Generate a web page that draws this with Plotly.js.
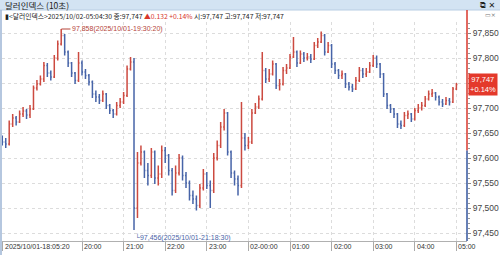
<!DOCTYPE html>
<html>
<head>
<meta charset="utf-8">
<script src="https://cdn.plot.ly/plotly-3.0.1.min.js"></script>
<style>
html,body{margin:0;padding:0;background:#fff;overflow:hidden;}
#chart{width:500px;height:255px;}
</style>
</head>
<body>
<div id="chart"></div>
<script>
// ---- data (5-minute candles) ----
const times = [
"18:05","18:10","18:15","18:20","18:25","18:30","18:35","18:40","18:45","18:50","18:55",
"19:00","19:05","19:10","19:15","19:20","19:25","19:30","19:35","19:40","19:45","19:50","19:55",
"20:00","20:05","20:10","20:15","20:20","20:25","20:30","20:35","20:40","20:45","20:50","20:55",
"21:00","21:05","21:10","21:15","21:20","21:25","21:30","21:35","21:40","21:45","21:50","21:55",
"22:00","22:05","22:10","22:15","22:20","22:25","22:30","22:35","22:40","22:45","22:50","22:55",
"23:00","23:05","23:10","23:15","23:20","23:25","23:30","23:35","23:40","23:45","23:50","23:55",
"00:00","00:05","00:10","00:15","00:20","00:25","00:30","00:35","00:40","00:45","00:50","00:55",
"01:00","01:05","01:10","01:15","01:20","01:25","01:30","01:35","01:40","01:45","01:50","01:55",
"02:00","02:05","02:10","02:15","02:20","02:25","02:30","02:35","02:40","02:45","02:50","02:55",
"03:00","03:05","03:10","03:15","03:20","03:25","03:30","03:35","03:40","03:45","03:50","03:55",
"04:00","04:05","04:10","04:15","04:20","04:25","04:30","04:35","04:40","04:45","04:50","04:55",
"05:00"];

const openP = [
97.638,97.632,97.628,97.668,97.680,97.672,97.688,97.694,97.686,97.698,97.740,97.748,
97.758,97.785,97.770,97.762,97.800,97.828,97.845,97.812,97.790,97.770,97.755,97.790,
97.772,97.765,97.752,97.728,97.722,97.715,97.728,97.705,97.695,97.688,97.705,97.712,
97.725,97.778,97.792,97.500,97.590,97.612,97.575,97.565,97.612,97.560,97.568,97.615,
97.605,97.575,97.535,97.570,97.600,97.565,97.550,97.525,97.518,97.505,97.540,97.568,
97.545,97.535,97.600,97.625,97.662,97.690,97.612,97.570,97.558,97.545,97.640,97.625,
97.632,97.690,97.702,97.718,97.775,97.758,97.768,97.788,97.745,97.748,97.775,97.780,
97.802,97.812,97.790,97.808,97.800,97.802,97.798,97.825,97.832,97.845,97.812,97.825,
97.788,97.775,97.765,97.768,97.748,97.742,97.738,97.755,97.775,97.768,97.772,97.785,
97.800,97.788,97.768,97.728,97.705,97.698,97.688,97.668,97.665,97.685,97.688,97.678,
97.695,97.700,97.705,97.718,97.728,97.730,97.722,97.712,97.708,97.715,97.712,97.738];

const highP = [
97.645,97.640,97.675,97.688,97.684,97.695,97.702,97.698,97.706,97.745,97.756,97.765,
97.792,97.790,97.775,97.806,97.835,97.858,97.848,97.815,97.792,97.772,97.812,97.795,
97.778,97.768,97.755,97.735,97.728,97.735,97.730,97.708,97.698,97.712,97.720,97.732,
97.785,97.802,97.800,97.612,97.625,97.615,97.590,97.620,97.615,97.585,97.625,97.622,
97.608,97.580,97.585,97.608,97.605,97.572,97.555,97.535,97.525,97.548,97.578,97.572,
97.555,97.610,97.635,97.672,97.698,97.692,97.615,97.575,97.565,97.712,97.650,97.642,
97.698,97.710,97.725,97.812,97.780,97.778,97.795,97.790,97.758,97.782,97.788,97.808,
97.842,97.815,97.815,97.812,97.810,97.808,97.832,97.840,97.853,97.848,97.832,97.828,
97.792,97.778,97.775,97.770,97.752,97.748,97.762,97.782,97.780,97.780,97.792,97.806,
97.805,97.790,97.770,97.730,97.708,97.700,97.690,97.675,97.692,97.695,97.690,97.700,
97.708,97.712,97.724,97.735,97.738,97.732,97.725,97.718,97.722,97.720,97.742,97.750];

const lowP = [
97.625,97.620,97.625,97.662,97.665,97.670,97.682,97.678,97.680,97.696,97.735,97.745,
97.752,97.762,97.755,97.760,97.795,97.825,97.805,97.782,97.762,97.748,97.752,97.765,
97.758,97.745,97.720,97.712,97.708,97.712,97.698,97.688,97.680,97.685,97.700,97.708,
97.722,97.775,97.456,97.480,97.585,97.560,97.545,97.560,97.548,97.545,97.560,97.590,
97.565,97.525,97.530,97.565,97.555,97.540,97.515,97.508,97.495,97.500,97.535,97.538,
97.500,97.530,97.595,97.620,97.655,97.605,97.560,97.545,97.525,97.540,97.615,97.618,
97.628,97.688,97.698,97.715,97.750,97.752,97.765,97.738,97.735,97.745,97.768,97.778,
97.800,97.782,97.788,97.792,97.795,97.790,97.796,97.820,97.830,97.805,97.810,97.780,
97.768,97.758,97.758,97.740,97.735,97.732,97.736,97.752,97.760,97.762,97.770,97.782,
97.780,97.760,97.722,97.698,97.690,97.680,97.660,97.658,97.662,97.678,97.672,97.675,
97.690,97.695,97.702,97.715,97.722,97.715,97.705,97.702,97.706,97.705,97.710,97.736];

const closeP = [
97.632,97.628,97.668,97.680,97.672,97.688,97.694,97.686,97.698,97.740,97.748,97.758,
97.785,97.770,97.762,97.800,97.828,97.845,97.812,97.790,97.770,97.755,97.790,97.772,
97.765,97.752,97.728,97.722,97.715,97.728,97.705,97.695,97.688,97.705,97.712,97.725,
97.778,97.792,97.500,97.590,97.612,97.575,97.565,97.612,97.560,97.568,97.615,97.605,
97.575,97.535,97.570,97.600,97.565,97.550,97.525,97.518,97.505,97.540,97.568,97.545,
97.535,97.600,97.625,97.662,97.690,97.612,97.570,97.558,97.545,97.640,97.625,97.632,
97.690,97.702,97.718,97.775,97.758,97.768,97.788,97.745,97.748,97.775,97.780,97.802,
97.812,97.790,97.808,97.800,97.802,97.798,97.825,97.832,97.845,97.812,97.825,97.788,
97.775,97.765,97.768,97.748,97.742,97.738,97.755,97.775,97.768,97.772,97.785,97.800,
97.788,97.768,97.728,97.705,97.698,97.688,97.668,97.665,97.685,97.688,97.678,97.695,
97.700,97.705,97.718,97.728,97.730,97.722,97.712,97.708,97.715,97.712,97.738,97.747];

const prevClose = 97.615;
const lastPrice = 97.747;
const highPoint = {t: "2025-10-01 19:30:20", v: 97.858, label: "97,858(2025/10/01-19:30:20)"};
const lowPoint  = {t: "2025-10-01 21:18:30", v: 97.456, label: "97,456(2025/10/01-21:18:30)"};

const xTickTimes  = ["2025-10-01 18:05:20","2025-10-01 20:00","2025-10-01 21:00","2025-10-01 22:00","2025-10-01 23:00",
                     "2025-10-02 00:00","2025-10-02 01:00","2025-10-02 02:00","2025-10-02 03:00","2025-10-02 04:00","2025-10-02 05:00"];
const xTickLabels = ["2025/10/01-18:05:20","20:00","21:00","22:00","23:00","02-00:00","01:00","02:00","03:00","04:00","05:00"];

const headerTitle = "달러인덱스 (10초)";
const infoName = "<달러인덱스>2025/10/02-05:04:30";
const infoClose = "종:97,747";
const infoChange = "▲0.132 +0.14%";
const infoRest = "시:97,747 고:97,747 저:97,747";
const priceBoxText = "97,747<br>+0.14%";

// ---- build ----
const dt = times.map(s => (parseInt(s.slice(0,2),10) >= 18 ? "2025-10-01 " : "2025-10-02 ") + s);

const W = 500, H = 255, ML = 2, MR = 33, MT = 22, MB = 14;
const PW = W - ML - MR, PH = H - MT - MB;
const px = x => (x - ML) / PW;
const py = y => (H - MB - y) / PH;

const RED = "#cc4a40", BLUE = "#4764a8";
const AXRED = "#d8372c", AXBLUE = "#34569e";
const KR = "Noto Sans CJK KR";
const NUM = "Liberation Sans";

const trace = {
  type: "ohlc",
  x: dt, open: openP, high: highP, low: lowP, close: closeP,
  increasing: {line: {color: RED, width: 1.5}},
  decreasing: {line: {color: BLUE, width: 1.5}},
  tickwidth: 0.3,
  hoverinfo: "skip",
  showlegend: false
};

const annotations = [
  {xref:"paper", yref:"paper", x:px(3), y:py(5), xanchor:"left", yanchor:"middle", showarrow:false,
   text: headerTitle, font:{family:KR, size:8.5, color:"#1a1a1a"}},
  {xref:"paper", yref:"paper", x:px(497), y:py(5), xanchor:"right", yanchor:"middle", showarrow:false,
   text:"⧉ ✕", font:{family:"DejaVu Sans", size:8, color:"#222"}},
  {xref:"paper", yref:"paper", x:px(3), y:py(15.5), xanchor:"left", yanchor:"middle", showarrow:false,
   text: "▮" + infoName.replace("<","&lt;").replace(">","&gt;") + " " + infoClose + " <span style='color:" + AXRED + "'>" + infoChange + "</span> " + infoRest,
   font:{family:KR, size:6.8, color:"#222"}},
  {xref:"paper", yref:"paper", x:px(498), y:py(15), xanchor:"right", yanchor:"middle", showarrow:false,
   text:"▭×", font:{family:"DejaVu Sans", size:6, color:"#777"}},
  {x: highPoint.t, y: highPoint.v, xref:"x", yref:"y", text: highPoint.label, showarrow:true, arrowhead:0,
   arrowwidth:1, arrowcolor:"#b5443a", ax:9, ay:0, xanchor:"left", yanchor:"middle",
   font:{family:NUM, size:7, color:"#b5443a"}},
  {x: lowPoint.t, y: lowPoint.v, xref:"x", yref:"y", text: "└" + lowPoint.label, showarrow:false,
   xanchor:"left", yanchor:"top", xshift:-3, yshift:-1,
   font:{family:NUM, size:7, color:"#4a64a8"}},
  {xref:"paper", yref:"y", x:1, y:lastPrice, xanchor:"left", yanchor:"middle", xshift:1, showarrow:false,
   text: priceBoxText, bgcolor:"#e4392b", borderpad:1, align:"center",
   font:{family:NUM, size:7.5, color:"#ffffff"}}
];
xTickTimes.forEach((t,i) => annotations.push({
  x:t, xref:"x", yref:"paper", y:py(246.5), xanchor:"left", yanchor:"middle", xshift:0, showarrow:false,
  text: xTickLabels[i], font:{family:NUM, size:7, color:"#333"}
}));

const shapes = [
  {type:"rect", xref:"paper", yref:"paper", x0:px(0), x1:px(500), y0:py(10), y1:py(0),
   fillcolor:"#d3e3f3", line:{width:0}, layer:"below"},
  {type:"line", xref:"paper", yref:"paper", x0:px(0), x1:px(500), y0:py(10), y1:py(10),
   line:{color:"#b8cde3", width:1}},
  {type:"line", xref:"paper", yref:"paper", x0:px(1), x1:px(1), y0:py(255), y1:py(10),
   line:{color:"#9db4d4", width:1.5}},
  {type:"line", xref:"paper", yref:"y", x0:1, x1:1, y0:prevClose, y1:97.872, line:{color:AXRED, width:1.5}},
  {type:"line", xref:"paper", yref:"paper", x0:1, x1:1, y0:1, y1:py(10), line:{color:AXRED, width:1.5}},
  {type:"line", xref:"paper", yref:"y", x0:1, x1:1, y0:97.434, y1:prevClose, line:{color:AXBLUE, width:1.5}}
];

const layout = {
  width: W, height: H,
  margin: {l:ML, r:MR, t:MT, b:MB, pad:0},
  paper_bgcolor:"#ffffff", plot_bgcolor:"#ffffff",
  separators: ",.",
  showlegend:false,
  hovermode:false,
  dragmode:false,
  xaxis: {
    type:"date",
    range:["2025-10-01 18:04:36","2025-10-02 05:15:18"],
    rangeslider:{visible:false},
    tickmode:"array", tickvals:xTickTimes, ticktext:xTickLabels.map(()=>""),
    showticklabels:false,
    ticks:"outside", ticklen:9, tickcolor:"#aaaaaa", tickwidth:1,
    showgrid:true, gridcolor:"#dcdcdc", griddash:"dot", gridwidth:1,
    showline:true, linecolor:"#b0b0b0", linewidth:1,
    zeroline:false, fixedrange:true
  },
  yaxis: {
    side:"right",
    range:[97.434, 97.872],
    tickmode:"linear", tick0:97.45, dtick:0.05, tickformat:".3f",
    labelalias: {"97,750": " "},
    ticks:"outside", ticklen:3, tickcolor:"#888", tickwidth:1,
    minor:{dtick:0.01, tick0:97.45, ticks:"outside", ticklen:2, tickcolor:"#999", showgrid:false},
    tickfont:{family:NUM, size:8.5, color:"#444"},
    showgrid:true, gridcolor:"#dcdcdc", griddash:"dot", gridwidth:1,
    showline:false, zeroline:false, fixedrange:true
  },
  annotations: annotations,
  shapes: shapes
};

Plotly.newPlot("chart", [trace], layout, {staticPlot:true, displayModeBar:false});
</script>
</body>
</html>
